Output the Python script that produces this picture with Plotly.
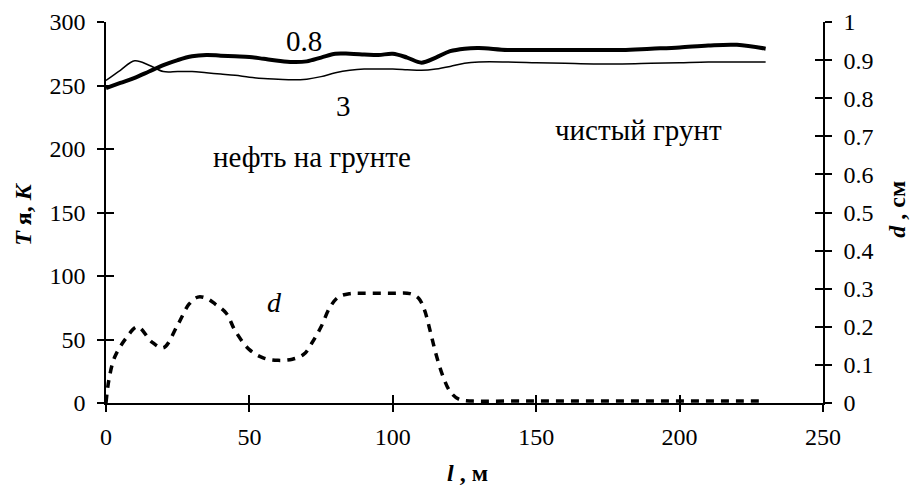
import plotly.graph_objects as go

# ---- data ----
x_T = [0, 5, 10, 15, 20, 25, 30, 35, 40, 45, 50, 55, 60, 65, 70, 75, 80, 85, 90, 95,
       100, 105, 110, 115, 120, 125, 130, 140, 150, 160, 170, 180, 190, 200, 210, 220, 230]
T_08 = [248, 252, 256, 261, 266, 270, 273, 274, 273.5, 273, 272.5, 271, 269.5, 268.5, 269, 272,
        275, 275, 274.5, 274, 275, 272, 268, 272, 277, 279, 279.5, 278, 278, 278, 278, 278,
        279, 280, 281.5, 282, 279]
T_3 = [254, 262, 269.5, 266, 261, 261, 261, 260, 259, 258, 256.5, 255.5, 255, 254.5, 255, 257,
       260, 262, 263, 263, 263, 262.5, 262, 263, 265, 267.5, 268.5, 268.5, 268, 267.5, 267,
       267, 267.5, 268, 268.5, 268.5, 268.5]

x_d = [0, 1, 3, 7, 11, 16, 20, 25, 29, 32, 35, 38, 42, 45, 50, 55, 60, 65, 69, 72, 75, 78,
       81, 85, 90, 100, 106, 109, 111, 113, 115, 117.5, 120, 123, 128, 140, 150, 160, 170,
       180, 190, 200, 210, 220, 230]
d_vals = [0, 0.06, 0.12, 0.17, 0.2, 0.16, 0.145, 0.205, 0.26, 0.278, 0.275, 0.26, 0.235, 0.19,
          0.14, 0.118, 0.112, 0.115, 0.128, 0.16, 0.2, 0.25, 0.278, 0.287, 0.288, 0.288, 0.287,
          0.275, 0.245, 0.19, 0.13, 0.07, 0.03, 0.01, 0.005, 0.005, 0.005, 0.005, 0.005, 0.005,
          0.005, 0.005, 0.005, 0.005, 0.005]

x_ticks = [0, 50, 100, 150, 200, 250]
y_ticks = [0, 50, 100, 150, 200, 250, 300]
y2_ticks = [0, 0.1, 0.2, 0.3, 0.4, 0.5, 0.6, 0.7, 0.8, 0.9, 1]
y2_labels = ["0", "0.1", "0.2", "0.3", "0.4", "0.5", "0.6", "0.7", "0.8", "0.9", "1"]

FONT = "Liberation Serif"
TICK_SIZE = 24
TITLE_SIZE = 24
ANN_SIZE = 29

fig = go.Figure()
fig.add_trace(go.Scatter(x=x_T, y=T_3, mode="lines", line=dict(color="black", width=1.5, shape="spline"),
                         showlegend=False))
fig.add_trace(go.Scatter(x=x_T, y=T_08, mode="lines", line=dict(color="black", width=4, shape="spline"),
                         showlegend=False))
fig.add_trace(go.Scatter(x=x_d, y=d_vals, mode="lines", yaxis="y2",
                         line=dict(color="black", width=3.5, dash="8px,7px", shape="spline"),
                         showlegend=False))

axis_common = dict(showgrid=False, zeroline=False, showline=True, linecolor="black", linewidth=1.5,
                   ticks="outside", ticklen=7, tickwidth=1.5, tickcolor="black", automargin=False,
                   tickfont=dict(family=FONT, size=TICK_SIZE, color="black"))
inside_common = dict(ticks="inside", ticklen=8, tickwidth=1.5, tickcolor="black",
                     showticklabels=False, showgrid=False, zeroline=False, showline=False)

fig.update_layout(
    width=911, height=492,
    margin=dict(l=106, r=88, t=22, b=89),
    plot_bgcolor="white", paper_bgcolor="white",
    font=dict(family=FONT, color="black"),
    xaxis=dict(range=[0, 250], tickvals=x_ticks, ticklabelstandoff=4, **axis_common),
    yaxis=dict(range=[0, 300], tickvals=y_ticks, ticklabelstandoff=7, **axis_common),
    yaxis2=dict(range=[0, 1], tickvals=y2_ticks, ticktext=y2_labels, overlaying="y", side="right",
                ticklabelstandoff=7, **axis_common),
    xaxis2=dict(range=[0, 250], tickvals=x_ticks, overlaying="x", anchor="y", **inside_common),
    yaxis3=dict(range=[0, 300], tickvals=y_ticks, overlaying="y", anchor="x", **inside_common),
    yaxis4=dict(range=[0, 1], tickvals=y2_ticks, overlaying="y", side="right", anchor="x", **inside_common),
)
fig.add_trace(go.Scatter(x=[None], y=[None], xaxis="x2", yaxis="y", showlegend=False, hoverinfo="skip"))
fig.add_trace(go.Scatter(x=[None], y=[None], xaxis="x", yaxis="y3", showlegend=False, hoverinfo="skip"))
fig.add_trace(go.Scatter(x=[None], y=[None], xaxis="x", yaxis="y4", showlegend=False, hoverinfo="skip"))

# axis titles
title_font = dict(family=FONT, size=TITLE_SIZE, color="black")
fig.add_annotation(xref="paper", yref="paper", x=0.5035, y=-0.183, text="<b><i>l</i> , м</b>",
                   xanchor="center", yanchor="middle", showarrow=False, font=title_font)
fig.add_annotation(xref="paper", yref="paper", x=-0.116, y=0.496, text="<b><i>T</i> я, <i>K</i></b>",
                   xanchor="center", yanchor="middle", showarrow=False, textangle=-90, font=title_font)
fig.add_annotation(xref="paper", yref="paper", x=1.104, y=0.509, text="<b><i>d</i> , см</b>",
                   xanchor="center", yanchor="middle", showarrow=False, textangle=-90, font=title_font)

ann_font = dict(family=FONT, size=ANN_SIZE, color="black")
fig.add_annotation(x=69.2, y=285, text="0.8", showarrow=False, font=ann_font)
fig.add_annotation(x=82.8, y=234, text="3", showarrow=False, font=ann_font)
fig.add_annotation(x=71.8, y=194, text="нефть на грунте", showarrow=False, font=ann_font)
fig.add_annotation(x=185.5, y=215, text="чистый грунт", showarrow=False, font=ann_font)
fig.add_annotation(x=58.9, y=79, text="<i>d</i>", showarrow=False, font=dict(family=FONT, size=28, color="black"))

# remove the default page margin and scrollbars so the 911x492 figure fills the window exactly
page_fix = ("document.body.style.margin='0';document.body.style.overflow='hidden';"
            "document.documentElement.style.overflow='hidden';")
fig.write_html("out.html", post_script=page_fix, config={"displayModeBar": False})
